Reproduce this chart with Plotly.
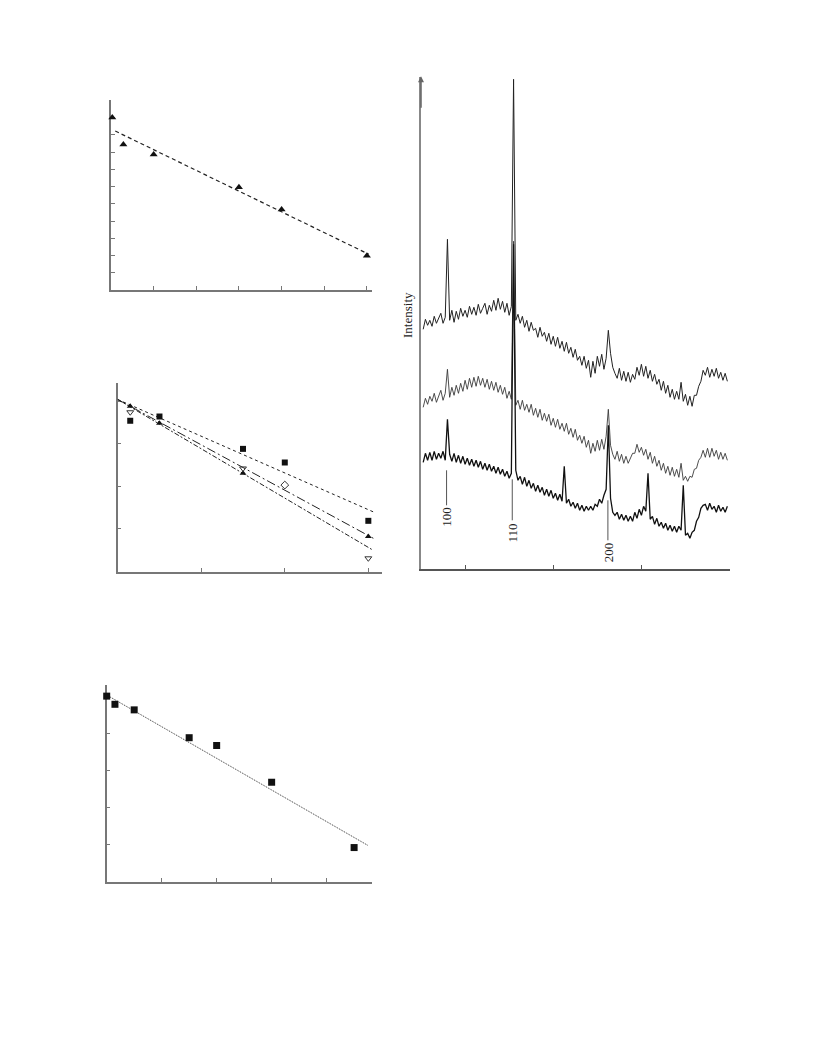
import numpy as np
import plotly.graph_objects as go

W, H = 816, 1056
OFF = 8  # page body margin in the browser

# ---------------- Panel 1 (top-left) ----------------
p1_x = [0.03, 0.29, 1.0, 3.0, 4.0, 6.0]
p1_y = [10.0, 8.44, 7.86, 5.96, 4.67, 1.99]
p1_fit_x = [0.1, 6.04]
p1_fit_y = [9.22, 2.08]

# ---------------- Panel 2 (middle-left) ----------------
p2_sq_x = [0.15, 0.5, 1.5, 2.0, 3.0]
p2_sq_y = [3.54, 3.64, 2.88, 2.56, 1.19]
p2_tri_x = [0.15, 0.5, 1.5, 3.0]
p2_tri_y = [3.88, 3.48, 2.31, 0.82]
p2_open_x = [0.15, 1.5, 2.0, 3.0]
p2_open_y = [3.74, 2.42, 2.03, 0.31]
p2_open_sym = ["triangle-down-open", "triangle-down-open", "diamond-open", "triangle-down-open"]
p2_fit_x = [0.0, 3.06]
p2_fit_sq_y = [4.04, 1.40]
p2_fit_tri_y = [4.04, 0.78]
p2_fit_open_x = [0.0, 3.04]
p2_fit_open_y = [4.04, 0.52]

# ---------------- Panel 3 (bottom-left) ----------------
p3_x = [0.0, 0.15, 0.5, 1.5, 2.0, 3.0, 4.5]
p3_y = [5.0, 4.78, 4.63, 3.88, 3.67, 2.68, 0.92]
p3_fit_x = [0.0, 4.76]
p3_fit_y = [5.03, 0.97]

# ---------------- Panel 4 (XRD patterns) ----------------
two_theta = np.round(np.arange(15.25, 49.76, 0.25), 2)

xrd_top = [
    24.0, 25.0, 24.4, 24.9,
    24.3, 25.3, 24.6, 25.1,
    25.6, 24.6, 25.2, 33.0,
    24.9, 25.9, 24.7, 25.8,
    25.0, 26.1, 25.3, 25.9,
    25.2, 26.3, 25.5, 26.2,
    25.4, 26.5, 25.6, 26.1,
    26.6, 25.5, 26.4, 25.8,
    26.9, 25.9, 27.1, 26.0,
    26.8, 25.7, 26.6, 25.4,
    26.3, 49.0, 24.9, 25.5,
    24.6, 25.3, 24.2, 24.9,
    23.8, 24.7, 23.9, 24.1,
    23.2, 24.2, 23.3, 23.7,
    22.8, 23.6, 22.5, 23.3,
    22.3, 23.2, 22.1, 22.8,
    21.8, 22.7, 21.6, 22.2,
    21.2, 22.0, 20.9, 21.3,
    20.4, 21.3, 20.1, 20.9,
    19.2, 20.8, 19.6, 21.3,
    20.3, 21.5, 20.0, 21.1,
    23.9, 21.6, 20.2, 19.6,
    19.1, 20.1, 18.9, 19.8,
    18.8, 19.7, 18.7, 19.5,
    19.0, 20.2, 19.4, 20.5,
    19.3, 20.3, 19.1, 19.9,
    18.8, 19.5, 18.5, 19.0,
    17.9, 18.8, 17.6, 18.4,
    17.2, 18.0, 17.0, 17.8,
    17.0, 18.7, 16.8, 17.5,
    16.4, 17.3, 16.3, 17.4,
    17.4, 18.3, 18.8, 19.9,
    19.4, 20.2, 19.2, 20.0,
    19.3, 20.1, 19.1, 19.7,
    18.9, 19.6, 18.8,
]

xrd_mid = [
    16.2, 17.1, 16.5, 17.3,
    16.8, 17.6, 16.7, 17.4,
    17.9, 16.9, 17.6, 20.0,
    17.2, 18.2, 17.4, 18.4,
    17.6, 18.6, 17.8, 18.9,
    18.0, 19.1, 18.2, 19.2,
    18.3, 19.3, 18.4, 19.1,
    18.2, 19.0, 18.0, 18.8,
    17.9, 18.7, 17.7, 18.4,
    17.5, 18.2, 17.1, 17.8,
    17.0, 32.8, 16.4, 16.9,
    16.0, 16.9, 15.9, 16.5,
    15.7, 16.5, 15.4, 16.1,
    15.2, 16.0, 14.9, 15.6,
    14.8, 15.5, 14.4, 15.1,
    14.2, 15.0, 14.0, 14.6,
    13.8, 14.6, 13.5, 14.1,
    13.2, 14.0, 12.9, 13.4,
    12.6, 13.3, 12.2, 12.9,
    11.6, 12.6, 11.8, 12.9,
    11.9, 13.0, 12.0, 13.3,
    16.0, 12.4, 11.5, 11.0,
    11.8, 10.8, 11.5, 10.6,
    11.3, 10.6, 11.2, 11.6,
    11.6, 12.5, 11.7, 12.2,
    11.4, 12.0, 11.0, 11.7,
    10.6, 11.3, 10.3, 10.9,
    9.9, 10.6, 9.6, 10.3,
    9.4, 10.2, 9.3, 10.0,
    9.2, 10.6, 8.9, 9.3,
    8.8, 9.3, 9.2, 10.0,
    10.1, 10.9, 11.2, 11.9,
    11.2, 12.1, 11.2, 12.1,
    11.3, 11.9, 11.0, 11.7,
    11.0, 11.6, 10.9,
]

xrd_bot = [
    10.7, 11.6, 10.9, 11.7,
    10.9, 11.8, 11.0, 11.6,
    11.1, 11.8, 10.9, 15.0,
    11.5, 10.8, 11.6, 10.7,
    11.4, 10.6, 11.3, 10.5,
    11.1, 10.4, 11.0, 10.3,
    10.9, 10.2, 10.8, 10.0,
    10.6, 9.9, 10.5, 9.8,
    10.3, 9.6, 10.2, 9.5,
    10.0, 9.3, 9.8, 9.1,
    9.6, 32.5, 9.9, 8.9,
    9.3, 8.5, 9.2, 8.3,
    8.9, 8.1, 8.6, 7.8,
    8.4, 7.7, 8.2, 7.4,
    8.0, 7.3, 7.9, 7.1,
    7.6, 6.9, 7.5, 6.8,
    10.3, 6.6, 7.0, 6.3,
    6.7, 6.1, 6.6, 5.9,
    6.4, 5.8, 6.3, 5.9,
    6.3, 5.9, 6.5, 6.3,
    7.0, 6.6, 7.4, 8.0,
    14.4, 7.1, 5.7, 5.4,
    5.7, 5.0, 5.5, 4.9,
    5.4, 4.8, 5.3, 4.8,
    5.7, 5.1, 6.0, 5.4,
    6.3, 5.8, 9.6, 5.0,
    5.3, 4.5, 5.1, 4.3,
    4.7, 4.1, 4.6, 3.9,
    4.4, 3.8, 4.3, 3.7,
    4.3, 3.9, 8.4, 3.4,
    3.6, 3.1, 3.7, 3.9,
    4.8, 5.2, 6.1, 6.4,
    6.5, 5.9, 6.6, 6.0,
    6.3, 5.7, 6.4, 5.8,
    6.2, 5.7, 6.3,
]

peak_labels = ["100", "110", "200"]
peak_pos = [17.9, 25.35, 36.2]
peak_line_top = [9.9, 9.0, 6.9]
peak_line_bot = [6.4, 4.9, 2.9]
peak_label_y = [5.2, 3.6, 1.7]


def xd(a, b):
    return [(a - OFF) / W, (b - OFF) / W]


def yd(top, bottom):
    return [1 - (bottom - OFF) / H, 1 - (top - OFF) / H]


fig = go.Figure()

# Panel 1
fig.add_trace(go.Scatter(x=p1_fit_x, y=p1_fit_y, mode="lines", xaxis="x", yaxis="y",
                         line=dict(color="#222", width=1.2, dash="4px,3px")))
fig.add_trace(go.Scatter(x=p1_x, y=p1_y, mode="markers", xaxis="x", yaxis="y", cliponaxis=False,
                         marker=dict(symbol="triangle-up", size=7, color="#111")))

# Panel 2
fig.add_trace(go.Scatter(x=p2_fit_x, y=p2_fit_sq_y, mode="lines", xaxis="x2", yaxis="y2",
                         line=dict(color="#222", width=1, dash="3px,3px")))
fig.add_trace(go.Scatter(x=p2_fit_x, y=p2_fit_tri_y, mode="lines", xaxis="x2", yaxis="y2",
                         line=dict(color="#222", width=1, dash="9px,3px,2px,3px")))
fig.add_trace(go.Scatter(x=p2_fit_open_x, y=p2_fit_open_y, mode="lines", xaxis="x2", yaxis="y2",
                         line=dict(color="#222", width=1, dash="5px,2px,2px,2px")))
fig.add_trace(go.Scatter(x=p2_sq_x, y=p2_sq_y, mode="markers", xaxis="x2", yaxis="y2", cliponaxis=False,
                         marker=dict(symbol="square", size=6, color="#111")))
fig.add_trace(go.Scatter(x=p2_tri_x, y=p2_tri_y, mode="markers", xaxis="x2", yaxis="y2", cliponaxis=False,
                         marker=dict(symbol="triangle-up", size=6, color="#111")))
fig.add_trace(go.Scatter(x=p2_open_x, y=p2_open_y, mode="markers", xaxis="x2", yaxis="y2", cliponaxis=False,
                         marker=dict(symbol=p2_open_sym, size=6, color="#333", line=dict(width=1, color="#333"))))

# Panel 3
fig.add_trace(go.Scatter(x=p3_fit_x, y=p3_fit_y, mode="lines", xaxis="x3", yaxis="y3",
                         line=dict(color="#333", width=1, dash="1px,1px")))
fig.add_trace(go.Scatter(x=p3_x, y=p3_y, mode="markers", xaxis="x3", yaxis="y3", cliponaxis=False,
                         marker=dict(symbol="square", size=7, color="#111")))

# Panel 4 XRD
fig.add_trace(go.Scatter(x=two_theta, y=xrd_top, mode="lines", xaxis="x4", yaxis="y4",
                         line=dict(color="#222", width=1)))
fig.add_trace(go.Scatter(x=two_theta, y=xrd_mid, mode="lines", xaxis="x4", yaxis="y4",
                         line=dict(color="#3a3a3a", width=0.9)))
fig.add_trace(go.Scatter(x=two_theta, y=xrd_bot, mode="lines", xaxis="x4", yaxis="y4",
                         line=dict(color="#111", width=1.3)))

ax_common = dict(showgrid=False, zeroline=False, showline=True, linecolor="#777", linewidth=1.5,
                 ticks="inside", ticklen=4, tickcolor="#777", tickwidth=1, showticklabels=False,
                 layer="below traces")

layout = dict(
    width=W, height=H, margin=dict(l=0, r=0, t=0, b=0),
    paper_bgcolor="white", plot_bgcolor="white", showlegend=False, template="none",
    xaxis=dict(domain=xd(111, 372), anchor="y", range=[0, 6.12], tickvals=[1, 2, 3, 4, 5, 6], **ax_common),
    yaxis=dict(domain=yd(100, 290), anchor="x", range=[0, 11.02], tickvals=list(range(1, 12)), **ax_common),
    xaxis2=dict(domain=xd(117.7, 381.7), anchor="y2", range=[0, 3.16], tickvals=[1, 2, 3], **ax_common),
    yaxis2=dict(domain=yd(383.3, 571.5), anchor="x2", range=[0, 4.42], tickvals=[1, 2, 3, 4], **ax_common),
    xaxis3=dict(domain=xd(106.7, 371.7), anchor="y3", range=[0, 4.82], tickvals=[1, 2, 3, 4], **ax_common),
    yaxis3=dict(domain=yd(685, 881.7), anchor="x3", range=[0, 5.30], tickvals=[1, 2, 3, 4, 5], **ax_common),
    xaxis4=dict(domain=xd(421, 730), anchor="y4", range=[15, 50.05], tickvals=[20, 30, 40, 50],
                **{**ax_common, "linecolor": "#555", "tickcolor": "#555", "ticklen": 5}),
    yaxis4=dict(domain=yd(76.7, 569.3), anchor="x4", range=[0, 49.26], tickvals=[],
                **{**ax_common, "linecolor": "#888", "linewidth": 2}),
)
fig.update_layout(**layout)

shapes = []
annotations = []
for lab, xp, yt, yb, yl in zip(peak_labels, peak_pos, peak_line_top, peak_line_bot, peak_label_y):
    shapes.append(dict(type="line", xref="x4", yref="y4", x0=xp, x1=xp, y0=yb, y1=yt,
                       line=dict(color="#555", width=1)))
    annotations.append(dict(text=lab, x=xp, y=yl, xref="x4", yref="y4", showarrow=False, textangle=-90,
                            xanchor="center", yanchor="middle",
                            font=dict(family="Liberation Serif", size=13, color="#222")))

annotations.append(dict(text="", x=15, y=49.3, ax=15, ay=46, xref="x4", yref="y4", axref="x4", ayref="y4",
                        showarrow=True, arrowhead=2, arrowsize=0.8, arrowwidth=1.5, arrowcolor="#666"))
annotations.append(dict(text="Intensity", x=(407 - OFF) / W, y=1 - (315 - OFF) / H, xref="paper", yref="paper",
                        showarrow=False, textangle=-90, xanchor="center", yanchor="middle",
                        font=dict(family="Liberation Serif", size=13, color="#222")))
fig.update_layout(shapes=shapes, annotations=annotations)

fig.write_html("out.html")
